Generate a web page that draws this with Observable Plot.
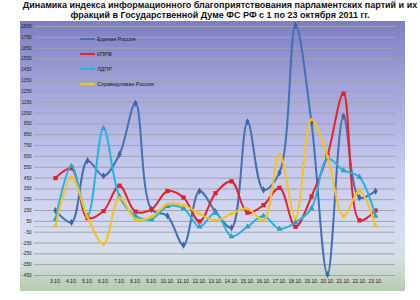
<!DOCTYPE html>
<html><head><meta charset="utf-8">
<script src="https://cdn.jsdelivr.net/npm/d3@7"></script>
<script src="https://cdn.jsdelivr.net/npm/@observablehq/plot@0.6"></script>
<style>
body{margin:0;background:#fff;font-family:"Liberation Sans",Arial,sans-serif;width:420px;height:300px;overflow:hidden;position:relative;}
#title{position:absolute;left:10px;top:1px;width:420px;text-align:center;font-weight:bold;font-size:9px;line-height:9.5px;color:#111;}
#chart{position:absolute;left:20px;top:21px;width:385px;height:270px;
 background:linear-gradient(to bottom,#7c7ec2 0%,#a2a4da 25%,#c6caee 55%,#d6dcf2 78%,#d4dfe6 88%,#b6cbae 100%);}
#chart svg{position:absolute;left:0;top:0;}
#legend{position:absolute;left:60px;top:10px;font-size:5.5px;color:#1a1a1a;}
#legend .row{height:15px;display:flex;align-items:center;}
#legend .sw{width:15px;height:2px;margin-right:2px;}
</style></head>
<body>
<div id="title">Динамика индекса информационного благоприятствования парламентских партий и их<br>фракций в Государственной Думе ФС РФ с 1 по 23 октября 2011 гг.</div>
<div id="chart"></div>
<script>
const dates = ["3.10.","4.10.","5.10.","6.10.","7.10.","8.10.","9.10.","10.10.","11.10.","12.10.","13.10.","14.10.","15.10.","16.10.","17.10.","18.10.","19.10.","20.10.","21.10.","22.10.","23.10."];
const seriesNames = ["Единая Россия","КПРФ","ЛДПР","Справедливая Россия"];
const edinayaRossiya = [150,40,610,470,670,1140,160,100,-170,330,140,-10,970,340,500,1860,960,-440,1020,270,330];
const kprf = [450,540,80,145,380,140,160,330,270,50,310,420,130,200,360,0,280,660,1230,60,150];
const ldpr = [70,560,100,910,280,100,70,190,170,0,130,-90,0,100,-20,40,170,630,520,460,100];
const spravRossiya = [10,460,90,-160,270,70,90,210,200,120,60,120,170,60,670,80,990,650,100,330,10];
const yTicks = d3.range(-450, 1851, 100);

const colors = ["#4470b4","#e8202a","#25b3e2","#f6c41c"];
const markFill = ["#3d64a8","#e0202a","#2aa3b6","#f0be18"];
const symbols = ["diamond","square","triangle","circle"];
const markR = [2.2,2.4,2.2,1.6];
const allSeries = [edinayaRossiya,kprf,ldpr,spravRossiya];

const marks = [
  Plot.gridY(yTicks,{stroke:"#a2a3ad",strokeOpacity:1,strokeWidth:1}),
  Plot.ruleY([0],{stroke:"#b4b6c2",strokeWidth:1}),
  Plot.axisY(yTicks,{tickSize:0,tickPadding:3,fontSize:4.6,fill:"#1a1a1a",tickFormat:d=>String(d)}),
  Plot.axisX({tickSize:0,tickPadding:4,fontSize:5,fill:"#1a1a1a"})
];
allSeries.forEach((vals,k)=>{
  const data = dates.map((d,i)=>({date:d,v:vals[i]}));
  marks.push(Plot.line(data,{x:"date",y:"v",stroke:colors[k],strokeWidth:2,curve:"catmull-rom"}));
  marks.push(Plot.dot(data,{x:"date",y:"v",symbol:symbols[k],r:markR[k],fill:markFill[k],stroke:"none"}));
});

const chart = Plot.plot({
  width:385,height:270,
  marginTop:5,marginBottom:16,marginLeft:14,marginRight:10,
  style:{background:"transparent",fontFamily:"Liberation Sans, Arial, sans-serif",overflow:"visible"},
  x:{type:"point",domain:dates,range:[25.5,364.5],label:null},
  y:{domain:[-450,1850],label:null},
  marks
});
const host = document.getElementById("chart");
host.appendChild(chart);

const legend = document.createElement("div");
legend.id="legend";
seriesNames.forEach((n,k)=>{
  const row=document.createElement("div");row.className="row";
  const sw=document.createElement("span");sw.className="sw";sw.style.background=colors[k];
  const t=document.createElement("span");t.textContent=n;
  row.appendChild(sw);row.appendChild(t);legend.appendChild(row);
});
host.appendChild(legend);
</script>
</body></html>
